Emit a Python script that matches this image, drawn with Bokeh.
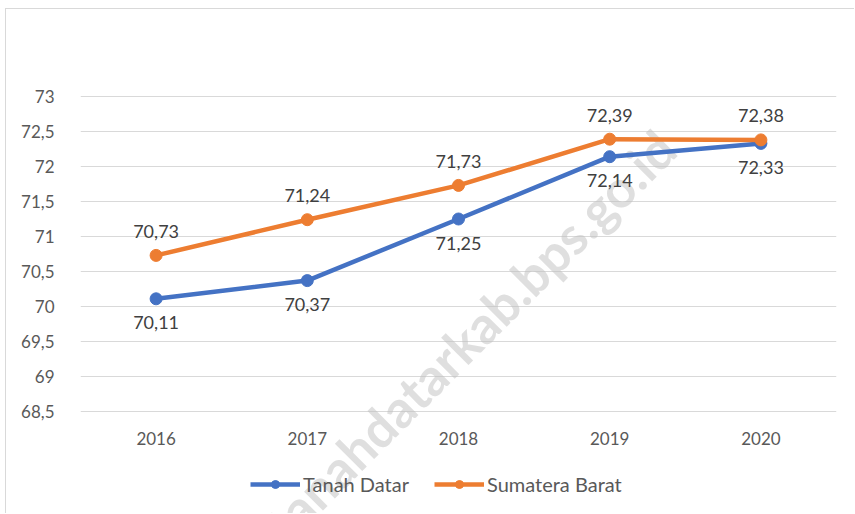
from bokeh.plotting import figure
from bokeh.models import Label, Legend, LegendItem, CustomJSTickFormatter, FixedTicker, ColumnDataSource
from bokeh.core.properties import value
from bokeh.embed import file_html
from bokeh.resources import INLINE

years = ["2016", "2017", "2018", "2019", "2020"]
tanah_datar = [70.11, 70.37, 71.25, 72.14, 72.33]
sumatera_barat = [70.73, 71.24, 71.73, 72.39, 72.38]
y_ticks = [68.5, 69, 69.5, 70, 70.5, 71, 71.5, 72, 72.5, 73]

FONT = "Lato"
BLUE = "#4472C4"
ORANGE = "#ED7D31"

# y range extends below 68.5 to leave room for the category labels and legend
p = figure(x_range=years, y_range=(67.0286, 73.0143), width=849, height=505,
           output_backend="svg", toolbar_location=None,
           min_border_left=74, min_border_right=19, min_border_top=86, min_border_bottom=0,
           styles={"margin-left": "5px", "margin-top": "8px",
                   "border-left": "1px solid #d9d9d9", "border-top": "1px solid #d9d9d9"})
p.outline_line_color = None
p.background_fill_color = "white"
p.border_fill_color = "white"

# watermark
wm = Label(x=2.576, y=69.59, text="tanahdatarkab.bps.go.id", angle=45, angle_units="deg",
           text_font=FONT, text_font_style="bold", text_font_size="52px",
           text_color="#c0c0c0", text_alpha=0.5, text_align="center", text_baseline="middle",
           level="underlay")
p.add_layout(wm)

# axes
p.xaxis.visible = False
p.yaxis.ticker = FixedTicker(ticks=y_ticks)
p.yaxis.formatter = CustomJSTickFormatter(code="return tick.toString().replace('.', ',');")
ax = p.yaxis[0]
ax.axis_line_color = None
ax.major_tick_line_color = None
ax.minor_tick_line_color = None
ax.major_label_text_font = FONT
ax.major_label_text_font_size = "17px"
ax.major_label_text_color = "#595959"
ax.major_label_standoff = 20
p.xgrid.grid_line_color = None
p.ygrid.grid_line_color = "#d9d9d9"
p.ygrid.grid_line_width = 1.2

src = ColumnDataSource(dict(
    x=years, td=tanah_datar, sb=sumatera_barat,
    td_lbl=[f"{v:.2f}".replace(".", ",") for v in tanah_datar],
    sb_lbl=[f"{v:.2f}".replace(".", ",") for v in sumatera_barat],
    base=[y_ticks[0]] * len(years),
))

# category labels under the bottom gridline
p.text("x", "base", text="x", source=src, y_offset=27, text_align="center",
       text_baseline="middle", text_font=value(FONT), text_font_size="17px", text_color="#595959")

l1 = p.line("x", "td", source=src, line_color=BLUE, line_width=4.5)
c1 = p.scatter("x", "td", source=src, size=12, fill_color=BLUE, line_color=BLUE)
l2 = p.line("x", "sb", source=src, line_color=ORANGE, line_width=4.5)
c2 = p.scatter("x", "sb", source=src, size=12, fill_color=ORANGE, line_color=ORANGE)

p.text("x", "td", text="td_lbl", source=src, y_offset=24, text_align="center",
       text_baseline="middle", text_font=value(FONT), text_font_size="18px", text_color="#404040")
p.text("x", "sb", text="sb_lbl", source=src, y_offset=-24, text_align="center",
       text_baseline="middle", text_font=value(FONT), text_font_size="18px", text_color="#404040")

legend = Legend(items=[LegendItem(label="Tanah Datar", renderers=[l1, c1]),
                       LegendItem(label="Sumatera Barat", renderers=[l2, c2])],
                location=(170, 18), orientation="horizontal",
                glyph_width=50, glyph_height=20, label_standoff=3, spacing=25,
                padding=0, margin=0, border_line_color=None, background_fill_alpha=0,
                label_text_font=FONT, label_text_font_size="20px", label_text_color="#595959")
p.add_layout(legend)

open("out.html", "w").write(file_html(p, INLINE))
